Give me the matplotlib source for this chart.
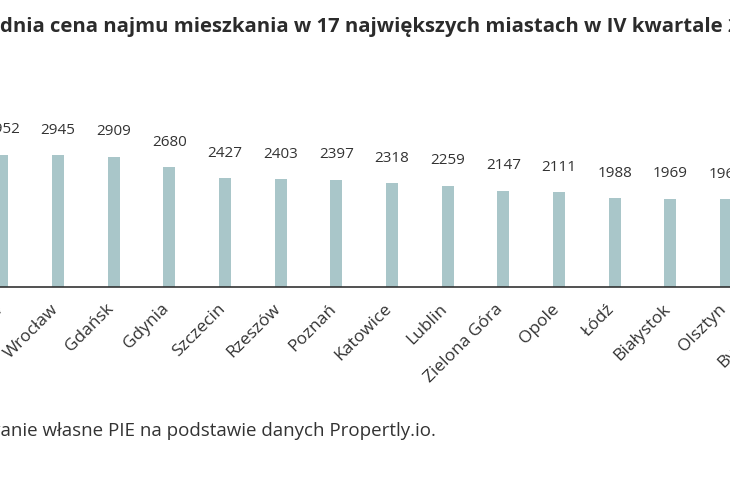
import matplotlib
matplotlib.use('Agg')
import matplotlib.pyplot as plt

# Cities visible in the (cropped) chart, left to right
cities = ['Kraków', 'Wrocław', 'Gdańsk', 'Gdynia', 'Szczecin', 'Rzeszów', 'Poznań',
          'Katowice', 'Lublin', 'Zielona Góra', 'Opole', 'Łódź', 'Białystok',
          'Olsztyn', 'Bydgoszcz']
# Average rent (PLN)
rents = [2952, 2945, 2909, 2680, 2427, 2403, 2397, 2318, 2259, 2147, 2111, 1988,
         1969, 1966, 1950]

title = 'Średnia cena najmu mieszkania w 17 największych miastach w IV kwartale 2022 r.'
source = 'Źródło: opracowanie własne PIE na podstawie danych Propertly.io.'

bar_color = '#a9c6c9'
text_color = '#333333'
font = 'Open Sans'

W, H = 730, 480
fig = plt.figure(figsize=(W / 100, H / 100), dpi=100, facecolor='white')

# Axes spans the whole width; the picture is a crop of a wider chart
spacing = 55.67    # px between bars
first_x = 2.3      # px centre of first visible bar
base_y = 287       # px from top of the baseline
top_y = 80
px_per_unit = 0.04482

ax = fig.add_axes([0, (H - base_y) / H, 1, (base_y - top_y) / H])
ax.set_xlim(-first_x / spacing, (W - first_x) / spacing)
ax.set_ylim(0, (base_y - top_y) / px_per_unit)

x = list(range(len(cities)))
ax.bar(x, rents, width=12 / spacing, color=bar_color, zorder=2)
# bar() may autoscale again, pin the view
ax.set_xlim(-first_x / spacing, (W - first_x) / spacing)
ax.set_ylim(0, (base_y - top_y) / px_per_unit)

for xi, v in zip(x, rents):
    ax.annotate(str(v), (xi, v), xytext=(0, 12.5), textcoords='offset points',
                ha='center', va='bottom', fontsize=11, color=text_color,
                family=font, annotation_clip=False)

# city names as rotated annotations, so the one past the right edge still shows
for xi, name in zip(x, cities):
    ax.annotate(name, (xi, 0), xytext=(-5.8, -10), textcoords='offset points',
                rotation=45, ha='right', va='top', rotation_mode='anchor',
                fontsize=12.5, color=text_color, family=font,
                annotation_clip=False)

ax.set_xticks([])
ax.set_yticks([])
for side in ['top', 'right', 'left']:
    ax.spines[side].set_visible(False)
ax.spines['bottom'].set_color('#333333')
ax.spines['bottom'].set_linewidth(1.2)

renderer = fig.canvas.get_renderer()


# Title and source are cut at the left edge: shift them by the width of
# the hidden prefix so the visible part starts at the edge
def prefix_width(prefix, **kw):
    t = fig.text(0, 0, prefix, **kw)
    w = t.get_window_extent(renderer).width
    t.remove()
    return w


title_kw = dict(fontsize=14.6, fontweight='bold', color='#2b2b2b', family=font)
tw = prefix_width('Śre', **title_kw)
fig.text(-tw / W, 1 - 25 / H, title, ha='left', va='center', **title_kw)

src_kw = dict(fontsize=13.5, color=text_color, family=font)
sw = prefix_width('Źródło: opracow', **src_kw)
fig.text(-sw / W, 1 - 429 / H, source, ha='left', va='center', **src_kw)

fig.savefig('out.png', dpi=100, facecolor='white')
